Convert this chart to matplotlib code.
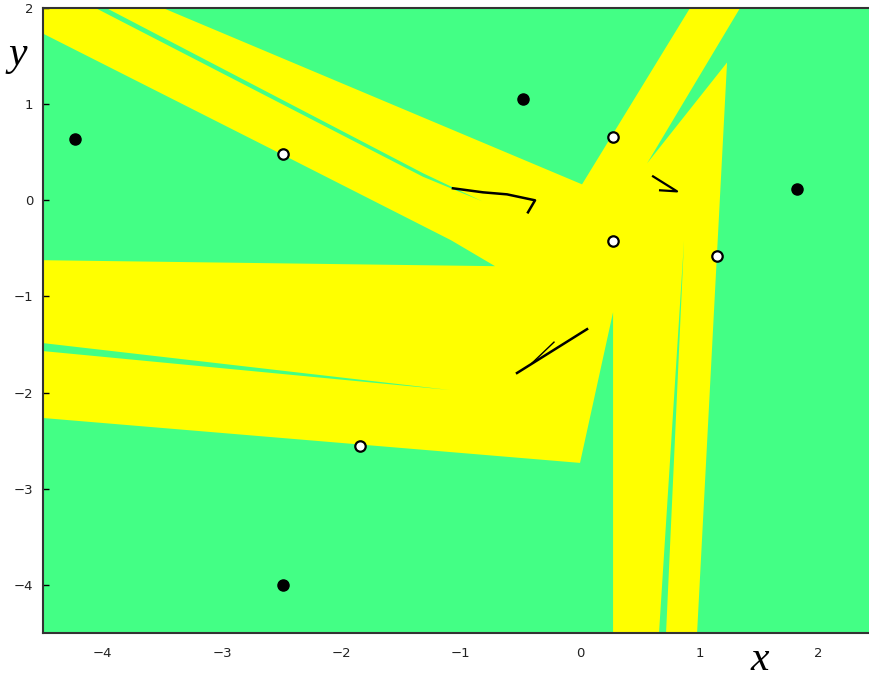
import matplotlib
matplotlib.use("Agg")
import matplotlib.pyplot as plt
from matplotlib.patches import Polygon

GREEN = "#43ff85"
YELLOW = "#ffff00"

# Outline of the yellow basin (x, y)
basin_x = [-4.5, -3.495, 0.017, 0.922, 1.341, 0.562, 1.232, 0.981, 0.277,
           0.277, 0.0, -4.5, -4.5, -0.712, -1.081, -2.498, -4.5]
basin_y = [2.0, 2.0, 0.166, 2.0, 2.0, 0.384, 1.433, -4.5, -4.5,
           -1.163, -2.731, -2.264, -0.623, -0.685, -0.415, 0.478, 1.734]

# Thin green gaps running inside the yellow bands
gap_upper_x = [-4.06, -3.97, -1.316, -0.82, -1.316]
gap_upper_y = [2.0, 2.0, 0.282, -0.01, 0.245]
gap_mid_x = [-4.5, -4.5, -1.09]
gap_mid_y = [-1.485, -1.568, -1.973]
gap_vert_x = [0.662, 0.721, 0.872]
gap_vert_y = [-4.5, -4.5, -0.415]

# Orbit traces
trace1_x = [-1.065, -0.813, -0.612, -0.377, -0.436]
trace1_y = [0.125, 0.083, 0.062, 0.0, -0.125]
trace2_x = [0.612, 0.813, 0.671]
trace2_y = [0.249, 0.093, 0.104]
trace3_x = [0.059, -0.528]
trace3_y = [-1.340, -1.796]
trace4_x = [-0.218, -0.402]
trace4_y = [-1.475, -1.693]

# Fixed points
black_x = [-4.23, -0.48, 1.82, -2.49]
black_y = [0.64, 1.05, 0.12, -4.0]
white_x = [-2.49, 0.28, 0.28, 1.15, -1.84]
white_y = [0.48, 0.66, -0.42, -0.58, -2.55]

xticks = [-4, -3, -2, -1, 0, 1, 2]
yticks = [-4, -3, -2, -1, 0, 1, 2]

fig = plt.figure(figsize=(8.7, 6.79), dpi=100)
ax = fig.add_axes([43 / 870, 46 / 679, 1 - 43 / 870, 625 / 679])
ax.set_facecolor(GREEN)
ax.set_xlim(-4.5, 2.43)
ax.set_ylim(-4.5, 2.0)

ax.add_patch(Polygon(list(zip(basin_x, basin_y)), closed=True,
                     facecolor=YELLOW, edgecolor="none", zorder=1))
for gx, gy in [(gap_upper_x, gap_upper_y), (gap_mid_x, gap_mid_y),
               (gap_vert_x, gap_vert_y)]:
    ax.add_patch(Polygon(list(zip(gx, gy)), closed=True,
                         facecolor=GREEN, edgecolor="none", zorder=2))

ax.plot(trace1_x, trace1_y, color="black", lw=1.8, zorder=3)
ax.plot(trace2_x, trace2_y, color="black", lw=1.6, zorder=3)
ax.plot(trace3_x, trace3_y, color="black", lw=1.8, zorder=3)
ax.plot(trace4_x, trace4_y, color="black", lw=1.0, zorder=3)

ax.plot(black_x, black_y, "o", color="black", ms=8, zorder=4)
ax.plot(white_x, white_y, "o", mfc="white", mec="black", mew=1.6, ms=7.5,
        zorder=4)

ax.set_xticks(xticks)
ax.set_yticks(yticks)
ax.set_xticklabels(["\u2212%d" % -t if t < 0 else str(t) for t in xticks])
ax.set_yticklabels(["\u2212%d" % -t if t < 0 else str(t) for t in yticks])
ax.tick_params(axis="x", length=0, pad=10, labelsize=9.5, labelcolor="#222222")
ax.tick_params(axis="y", direction="in", length=4, width=1, pad=7,
               labelsize=9.5, labelcolor="#222222")

for side in ["left", "top", "bottom"]:
    ax.spines[side].set_color("#333333")
    ax.spines[side].set_linewidth(1.5)
ax.spines["right"].set_visible(False)

fig.text(18 / 870, 1 - 55 / 679, "y", fontsize=30, style="italic",
         family="Liberation Serif", ha="center", va="center")
fig.text(760 / 870, 1 - 660 / 679, "x", fontsize=30, style="italic",
         family="Liberation Serif", ha="center", va="center")

fig.savefig("out.png", dpi=100)
